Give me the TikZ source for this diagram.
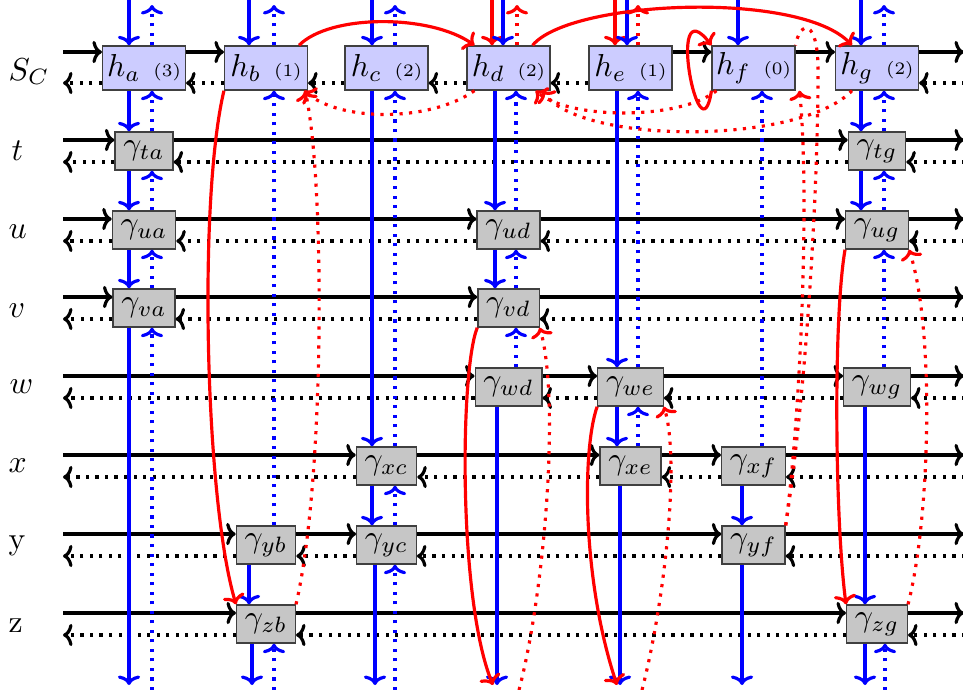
\documentclass[tikz,border=0pt]{standalone}
\usetikzlibrary{calc,arrows.meta}
\newcommand\hlbl[2]{$h_{#1}$\hspace{4pt}{\fontsize{5.5}{6}\selectfont(#2)}}
\begin{document}
\begin{tikzpicture}[x=0.315pt,y=-0.315pt, >={Computer Modern Rightarrow[length=3pt,width=7pt]},
  hnode/.style={draw=black!75, line width=0.4pt, fill=blue!20, minimum width=26.1pt, minimum height=13.9pt, inner sep=0pt},
  gnode/.style={draw=black!75, line width=0.4pt, fill=gray!45, minimum width=17pt, minimum height=12pt, inner xsep=2.6pt, inner ysep=0pt},
  lab/.style={anchor=base west, inner sep=0pt},
  sarr/.style={black, line width=1pt, ->},
  darr/.style={black, line width=1pt, dotted, ->},
  bsol/.style={blue, line width=1pt, ->},
  bdot/.style={blue, line width=1pt, dotted, ->},
  rsol/.style={red, line width=1pt, ->},
  rdot/.style={red, line width=1pt, dotted, ->},
  rdotplain/.style={red, line width=1pt, dotted},
]
\fill[white] (0,0) rectangle (963,689);
\useasboundingbox (0,0) rectangle (963,689);

% row labels
\node[lab] (lS) at (8,80) {$S_C$};
\node[lab] (lt) at (11,160) {$t$};
\node[lab] (lu) at (8,238) {$u$};
\node[lab] (lv) at (8,317) {$v$};
\node[lab] (lw) at (9,393) {$w$};
\node[lab] (lx) at (8,472) {$x$};
\node[lab] (ly) at (8,549) {y};
\node[lab] (lz) at (8,632) {z};

% h nodes
\node[hnode] (ha) at (144,68) {\hlbl{a}{3}};
\node[hnode] (hb) at (266,68) {\hlbl{b}{1}};
\node[hnode] (hc) at (386.5,68) {\hlbl{c}{2}};
\node[hnode] (hd) at (508.5,68) {\hlbl{d}{2}};
\node[hnode] (he) at (630.5,68) {\hlbl{e}{1}};
\node[hnode] (hf) at (753.5,68) {\hlbl{f}{0}};
\node[hnode] (hg) at (877,68) {\hlbl{g}{2}};

% gamma nodes
\node[gnode] (ta) at (144,151) {$\gamma_{ta}$};
\node[gnode] (tg) at (877,151) {$\gamma_{tg}$};
\node[gnode] (ua) at (144,230) {$\gamma_{ua}$};
\node[gnode] (ud) at (508.5,230) {$\gamma_{ud}$};
\node[gnode] (ug) at (877,230) {$\gamma_{ug}$};
\node[gnode] (va) at (144,308) {$\gamma_{va}$};
\node[gnode] (vd) at (508.5,308) {$\gamma_{vd}$};
\node[gnode] (wd) at (508.5,387) {$\gamma_{wd}$};
\node[gnode] (we) at (630.5,387) {$\gamma_{we}$};
\node[gnode] (wg) at (877,387) {$\gamma_{wg}$};
\node[gnode] (xc) at (386.5,466) {$\gamma_{xc}$};
\node[gnode] (xe) at (630.5,466) {$\gamma_{xe}$};
\node[gnode] (xf) at (753.5,466) {$\gamma_{xf}$};
\node[gnode] (yb) at (266,545) {$\gamma_{yb}$};
\node[gnode] (yc) at (386.5,545) {$\gamma_{yc}$};
\node[gnode] (yf) at (753.5,545) {$\gamma_{yf}$};
\node[gnode] (zb) at (266,624) {$\gamma_{zb}$};
\node[gnode] (zg) at (877,624) {$\gamma_{zg}$};

% ---------- horizontal lines ----------
% S_C
\coordinate (sS) at (63,52); \coordinate (sE) at (964,52);
\coordinate (dS) at (63,83); \coordinate (dE) at (965,83);
\draw[sarr] (sS) -- (sS -| ha.west);
\foreach \u/\v in {ha/hb, he/hf, hf/hg} \draw[sarr] (sS -| \u.east) -- (sS -| \v.west);
\draw[sarr] (sS -| hg.east) -- (sE);
\draw[darr] (dS -| ha.west) -- (dS);
\foreach \u/\v in {ha/hb, hb/hc, hc/hd, hd/he} \draw[darr] (dS -| \v.west) -- (dS -| \u.east);
\draw[darr] (dE) -- (dS -| hg.east);

% t
\coordinate (sT) at (63,140); \coordinate (sTe) at (964,140);
\coordinate (dT) at (63,162); \coordinate (dTe) at (965,162);
\draw[sarr] (sT) -- (sT -| ta.west);
\draw[sarr] (sT -| ta.east) -- (sT -| tg.west);
\draw[sarr] (sT -| tg.east) -- (sTe);
\draw[darr] (dT -| ta.west) -- (dT);
\draw[darr] (dT -| tg.west) -- (dT -| ta.east);
\draw[darr] (dTe) -- (dT -| tg.east);

% u
\coordinate (sU) at (63,219); \coordinate (sUe) at (964,219);
\coordinate (dU) at (63,241); \coordinate (dUe) at (965,241);
\draw[sarr] (sU) -- (sU -| ua.west);
\foreach \u/\v in {ua/ud, ud/ug} \draw[sarr] (sU -| \u.east) -- (sU -| \v.west);
\draw[sarr] (sU -| ug.east) -- (sUe);
\draw[darr] (dU -| ua.west) -- (dU);
\foreach \u/\v in {ua/ud, ud/ug} \draw[darr] (dU -| \v.west) -- (dU -| \u.east);
\draw[darr] (dUe) -- (dU -| ug.east);

% v
\coordinate (sV) at (63,297); \coordinate (sVe) at (964,297);
\coordinate (dV) at (63,319); \coordinate (dVe) at (965,319);
\draw[sarr] (sV) -- (sV -| va.west);
\draw[sarr] (sV -| va.east) -- (sV -| vd.west);
\draw[sarr] (sV -| vd.east) -- (sVe);
\draw[darr] (dV -| va.west) -- (dV);
\draw[darr] (dV -| vd.west) -- (dV -| va.east);
\draw[darr] (dVe) -- (dV -| vd.east);

% w
\coordinate (sW) at (63,376); \coordinate (sWe) at (964,376);
\coordinate (dW) at (63,398); \coordinate (dWe) at (965,398);
\draw[sarr] (sW) -- (sW -| wd.west);
\foreach \u/\v in {wd/we, we/wg} \draw[sarr] (sW -| \u.east) -- (sW -| \v.west);
\draw[sarr] (sW -| wg.east) -- (sWe);
\draw[darr] (dW -| wd.west) -- (dW);
\foreach \u/\v in {wd/we, we/wg} \draw[darr] (dW -| \v.west) -- (dW -| \u.east);
\draw[darr] (dWe) -- (dW -| wg.east);

% x
\coordinate (sX) at (63,455); \coordinate (sXe) at (964,455);
\coordinate (dX) at (63,477); \coordinate (dXe) at (965,477);
\draw[sarr] (sX) -- (sX -| xc.west);
\foreach \u/\v in {xc/xe, xe/xf} \draw[sarr] (sX -| \u.east) -- (sX -| \v.west);
\draw[sarr] (sX -| xf.east) -- (sXe);
\draw[darr] (dX -| xc.west) -- (dX);
\foreach \u/\v in {xc/xe, xe/xf} \draw[darr] (dX -| \v.west) -- (dX -| \u.east);
\draw[darr] (dXe) -- (dX -| xf.east);

% y
\coordinate (sY) at (63,534); \coordinate (sYe) at (964,534);
\coordinate (dY) at (63,556); \coordinate (dYe) at (965,556);
\draw[sarr] (sY) -- (sY -| yb.west);
\foreach \u/\v in {yb/yc, yc/yf} \draw[sarr] (sY -| \u.east) -- (sY -| \v.west);
\draw[sarr] (sY -| yf.east) -- (sYe);
\draw[darr] (dY -| yb.west) -- (dY);
\foreach \u/\v in {yb/yc, yc/yf} \draw[darr] (dY -| \v.west) -- (dY -| \u.east);
\draw[darr] (dYe) -- (dY -| yf.east);

% z
\coordinate (sZ) at (63,613); \coordinate (sZe) at (964,613);
\coordinate (dZ) at (63,635); \coordinate (dZe) at (965,635);
\draw[sarr] (sZ) -- (sZ -| zb.west);
\draw[sarr] (sZ -| zb.east) -- (sZ -| zg.west);
\draw[sarr] (sZ -| zg.east) -- (sZe);
\draw[darr] (dZ -| zb.west) -- (dZ);
\draw[darr] (dZ -| zg.west) -- (dZ -| zb.east);
\draw[darr] (dZe) -- (dZ -| zg.east);

% ---------- vertical lines ----------
% column a
\coordinate (Sa) at (129,-2); \coordinate (Da) at (152,5);
\coordinate (SaB) at (129,685); \coordinate (DaB) at (152,690);
\draw[bsol] (Sa) -- (Sa |- ha.north);
\foreach \u/\v in {ha/ta, ta/ua, ua/va} \draw[bsol] (Sa |- \u.south) -- (Sa |- \v.north);
\draw[bsol] (Sa |- va.south) -- (SaB);
\draw[bdot] (DaB) -- (DaB |- va.south);
\foreach \u/\v in {ha/ta, ta/ua, ua/va} \draw[bdot] (Da |- \v.north) -- (Da |- \u.south);
\draw[bdot] (Da |- ha.north) -- (Da);

% column b
\coordinate (Sb) at (249,-2); \coordinate (Db) at (274,5);
\coordinate (SbB) at (252,685); \coordinate (DbB) at (274,690);
\draw[bsol] (Sb) -- (Sb |- hb.north);
\draw[bdot] (Db |- hb.north) -- (Db);
\draw[bdot] (Db |- yb.north) -- (Db |- hb.south);
\draw[bsol] (Sb |- yb.south) -- (Sb |- zb.north);
\draw[bsol] (SbB |- zb.south) -- (SbB);
\draw[bdot] (DbB) -- (DbB |- zb.south);

% column c
\coordinate (Sc) at (372,-2); \coordinate (Dc) at (395,5);
\coordinate (ScB) at (375,685); \coordinate (DcB) at (395,690);
\draw[bsol] (Sc) -- (Sc |- hc.north);
\foreach \u/\v in {hc/xc, xc/yc} \draw[bsol] (Sc |- \u.south) -- (Sc |- \v.north);
\draw[bsol] (ScB |- yc.south) -- (ScB);
\draw[bdot] (DcB) -- (DcB |- yc.south);
\foreach \u/\v in {hc/xc, xc/yc} \draw[bdot] (Dc |- \v.north) -- (Dc |- \u.south);
\draw[bdot] (Dc |- hc.north) -- (Dc);

% column d
\coordinate (Sd) at (495,0); \coordinate (Dd) at (516,5);
\coordinate (RdT) at (492,-2); \coordinate (BdT) at (503,-2); \coordinate (RDdT) at (517,5);
\coordinate (SdB) at (497,685);
\coordinate (dRb) at (493,685); \coordinate (dDb) at (519,690);
\draw[rsol] (RdT) -- (RdT |- hd.north);
\draw[bsol] (BdT) -- (BdT |- hd.north);
\draw[rdot] (RDdT |- hd.north) -- (RDdT);
\foreach \u/\v in {hd/ud, ud/vd} \draw[bsol] (Sd |- \u.south) -- (Sd |- \v.north);
\draw[bsol] (SdB |- wd.south) -- (SdB);
\foreach \u/\v in {hd/ud, ud/vd, vd/wd} \draw[bdot] (Dd |- \v.north) -- (Dd |- \u.south);
\draw[rsol] (vd.south west) .. controls (460,370) and (458,600) .. (dRb);
\draw[rdot] (dDb) .. controls (545,590) and (560,400) .. (vd.south east);

% column e
\coordinate (Se) at (617,0); \coordinate (De) at (638,5);
\coordinate (ReT) at (615,-2); \coordinate (BeT) at (627,-2); \coordinate (RDeT) at (638,5);
\coordinate (SeB) at (620,685);
\coordinate (eRb) at (617,685); \coordinate (eDb) at (642,690);
\draw[rsol] (ReT) -- (ReT |- he.north);
\draw[bsol] (BeT) -- (BeT |- he.north);
\draw[rdot] (RDeT |- he.north) -- (RDeT);
\foreach \u/\v in {he/we, we/xe} \draw[bsol] (Se |- \u.south) -- (Se |- \v.north);
\draw[bsol] (SeB |- xe.south) -- (SeB);
\foreach \u/\v in {he/we, we/xe} \draw[bdot] (De |- \v.north) -- (De |- \u.south);
\draw[rsol] (we.south west) .. controls (582,450) and (582,580) .. (eRb);
\draw[rdot] (eDb) .. controls (665,600) and (680,460) .. (we.south east);

% column f
\coordinate (Sf) at (738,-2); \coordinate (Df) at (762,5);
\coordinate (SfB) at (742,685);
\draw[bsol] (Sf) -- (Sf |- hf.north);
\draw[bdot] (Df |- xf.north) -- (Df |- hf.south);
\draw[bsol] (SfB |- xf.south) -- (SfB |- yf.north);
\draw[bsol] (SfB |- yf.south) -- (SfB);
\draw[rsol] (hf.south west) .. controls (700,165) and (665,-15) .. (hf.north west);
\draw[rdot] (yf.north east) .. controls (800,420) and (810,200) .. ($(hf.south east)+(4,0)$);
\draw[rdotplain] (yf.north east) .. controls (805,400) and (818,200) .. (818,70) .. controls (818,18) and (800,20) .. (hf.north east);

% column g
\coordinate (Sg) at (861,-2); \coordinate (Dg) at (884,5);
\coordinate (SgB) at (865,685); \coordinate (DgB) at (885,690);
\draw[bsol] (Sg) -- (Sg |- hg.north);
\foreach \u/\v in {hg/tg, tg/ug} \draw[bsol] (Sg |- \u.south) -- (Sg |- \v.north);
\draw[bsol] (SgB |- wg.south) -- (SgB |- zg.north);
\draw[bsol] (SgB |- zg.south) -- (SgB);
\draw[bdot] (DgB) -- (DgB |- zg.south);
\foreach \u/\v in {hg/tg, tg/ug, ug/wg} \draw[bdot] (Dg |- \v.north) -- (Dg |- \u.south);
\draw[bdot] (Dg |- hg.north) -- (Dg);
\draw[rsol] (ug.south west) .. controls (833,320) and (835,520) .. (zg.north west);
\draw[rdot] (zg.north east) .. controls (930,520) and (935,330) .. (ug.south east);

% column b red
\draw[rsol] (hb.south west) .. controls (198,200) and (205,500) .. (zb.north west);
\draw[rdot] (zb.north east) .. controls (325,480) and (325,180) .. ($(hb.south east)+(-3,0)$);

% ---------- S_C red arcs ----------
\draw[rsol] ($(hb.north east)+(-9,0)$) .. controls (330,14) and (430,14) .. ($(hd.north west)+(8,0)$);
\draw[rsol] ($(hd.north east)+(-18,0)$) .. controls (570,0) and (800,-10) .. ($(hg.north west)+(17,0)$);
\draw[rdot] ($(hd.south west)+(8,0)$) .. controls (430,122) and (340,122) .. ($(hb.south east)+(-4,0)$);
\draw[rdot] ($(hf.south west)+(5,0)$) .. controls (680,120) and (570,120) .. ($(hd.south east)+(-15,0)$);
\draw[rdot] ($(hg.south west)+(17,0)$) .. controls (800,145) and (580,145) .. ($(hd.south east)+(-8,0)$);
\end{tikzpicture}
\end{document}
